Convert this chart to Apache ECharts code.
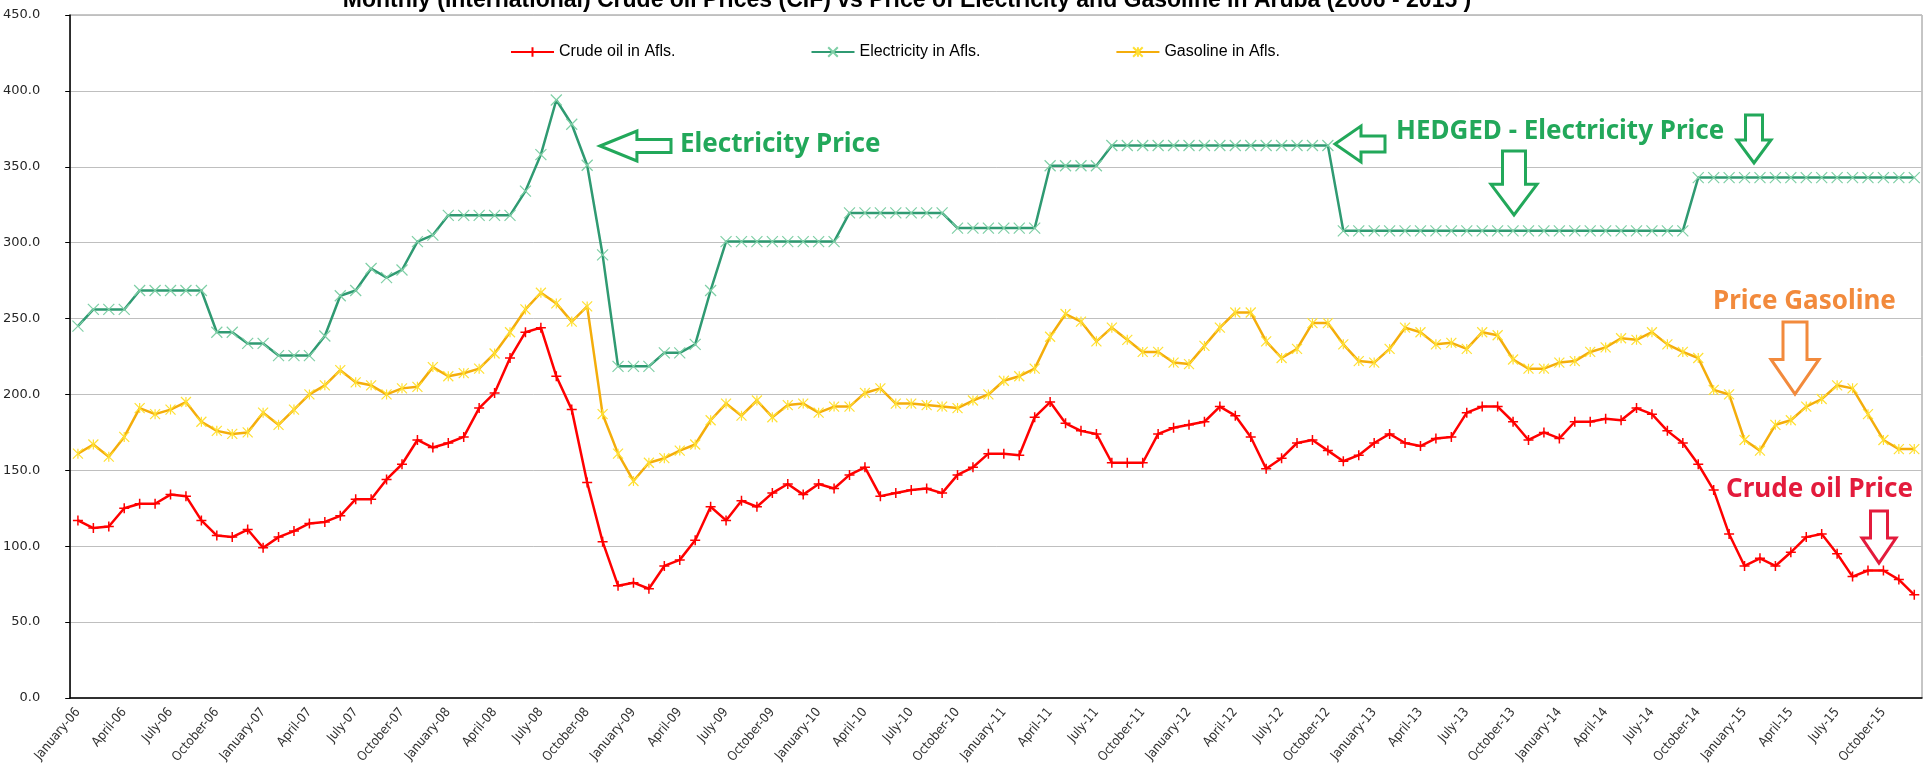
<!DOCTYPE html>
<html>
<head>
<meta charset="utf-8">
<style>
  html, body { margin: 0; padding: 0; background: #fff; }
  #main { width: 1932px; height: 780px; }
</style>
</head>
<body>
<div id="main"></div>
<script src="https://cdn.jsdelivr.net/npm/echarts@6/dist/echarts.min.js"></script>
<script>
// month labels Jan-06 .. Dec-15
var monthNames = ['January', 'February', 'March', 'April', 'May', 'June',
                  'July', 'August', 'September', 'October', 'November', 'December'];
var years = ['06', '07', '08', '09', '10', '11', '12', '13', '14', '15'];
var months = [];
years.forEach(function (y) {
    monthNames.forEach(function (m) { months.push(m + '-' + y); });
});

// values (Afls.)
var crudeOil = [
    117, 112, 113, 125, 128, 128, 134, 133, 117, 107, 106, 111,
    99, 106, 110, 115, 116, 120, 131, 131, 144, 154, 170, 165,
    168, 172, 191, 201, 224, 241, 244, 212, 190, 142, 103, 74,
    76, 72, 87, 91, 104, 126, 117, 130, 126, 135, 141, 134,
    141, 138, 147, 152, 133, 135, 137, 138, 135, 147, 152, 161,
    161, 160, 185, 195, 181, 176, 174, 155, 155, 155, 174, 178,
    180, 182, 192, 186, 172, 151, 158, 168, 170, 163, 156, 160,
    168, 174, 168, 166, 171, 172, 188, 192, 192, 182, 170, 175,
    171, 182, 182, 184, 183, 191, 187, 176, 168, 154, 137, 108,
    87, 92, 87, 96, 106, 108, 95, 80, 84, 84, 78, 68
];
var electricity = [
    245, 256, 256, 256, 268.5, 268.5, 268.5, 268.5, 268.5, 241, 241, 233.6,
    233.6, 225.6, 225.6, 225.6, 238.5, 265, 268.5, 283, 277, 282, 300.7, 305,
    318, 318, 318, 318, 318, 334, 358, 394, 378, 351, 292, 218.5,
    218.5, 218.5, 227.4, 227.4, 233, 268.5, 300.7, 300.7, 300.7, 300.7, 300.7, 300.7,
    300.7, 300.7, 319.6, 319.6, 319.6, 319.6, 319.6, 319.6, 319.6, 309.6, 309.6, 309.6,
    309.6, 309.6, 309.6, 350.7, 350.7, 350.7, 350.7, 364, 364, 364, 364, 364,
    364, 364, 364, 364, 364, 364, 364, 364, 364, 364, 307.8, 307.8,
    307.8, 307.8, 307.8, 307.8, 307.8, 307.8, 307.8, 307.8, 307.8, 307.8, 307.8, 307.8,
    307.8, 307.8, 307.8, 307.8, 307.8, 307.8, 307.8, 307.8, 307.8, 342.9, 342.9, 342.9,
    342.9, 342.9, 342.9, 342.9, 342.9, 342.9, 342.9, 342.9, 342.9, 342.9, 342.9, 342.9
];
var gasoline = [
    161, 167, 159, 172, 191, 187, 190, 195, 182, 176, 174, 175,
    188, 180, 190, 200, 206, 216, 208, 206, 200, 204, 205, 218,
    212, 214, 217, 227, 241, 256, 267, 260, 248, 258, 187, 161,
    143, 155, 158, 163, 167, 183, 194, 186, 196, 185, 193, 194,
    188, 192, 192, 201, 204, 194, 194, 193, 192, 191, 196, 200,
    209, 212, 217, 238, 253, 248, 235, 244, 236, 228, 228, 221,
    220, 232, 244, 254, 254, 235, 224, 230, 247, 247, 233, 222,
    221, 230, 244, 241, 233, 234, 230, 241, 239, 223, 217, 217,
    221, 222, 228, 231, 237, 236, 241, 233, 228, 224, 203, 200,
    170, 163, 180, 183, 192, 197, 206, 204, 187, 170, 164, 164
];

var plusMark = 'path://M5,0L5,10M0,5L10,5';
var crossMark = 'path://M0,0L10,10M10,0L0,10';
var starMark = 'path://M5,0L5,10M0,0L10,10M10,0L0,10';

var green = '#22a85a';
var orange = '#f28a3c';
var crimson = '#e31b3c';

// hollow block arrows for the notes
function leftArrow(x, y, w, h, color) {
    var hw = w * 0.52, s = h * 0.28;
    return {
        type: 'polygon', silent: true, z: 100,
        shape: { points: [[x, y + h / 2], [x + hw, y], [x + hw, y + s], [x + w, y + s],
                          [x + w, y + h - s], [x + hw, y + h - s], [x + hw, y + h]] },
        style: { fill: '#fff', stroke: color, lineWidth: 3 }
    };
}
function downArrow(x, y, w, h, color) {
    var hh = h * 0.48, s = w * 0.25;
    return {
        type: 'polygon', silent: true, z: 100,
        shape: { points: [[x + s, y], [x + w - s, y], [x + w - s, y + h - hh], [x + w, y + h - hh],
                          [x + w / 2, y + h], [x, y + h - hh], [x + s, y + h - hh]] },
        style: { fill: '#fff', stroke: color, lineWidth: 3 }
    };
}
function note(x, y, str, color) {
    return {
        type: 'text', silent: true, z: 100, x: x, y: y,
        style: { text: str, fill: color, font: 'bold 26px "Noto Sans"', textVerticalAlign: 'middle' }
    };
}

var myChart = echarts.init(document.getElementById('main'));
var option = {
    animation: false,
    backgroundColor: '#fff',
    grid: { left: 67, right: 10, top: 15, bottom: 82, show: true, borderColor: '#8c8c8c', borderWidth: 1 },
    legend: {
        top: 39, left: 505, itemWidth: 43, itemHeight: 12, itemGap: 135,
        textStyle: { fontSize: 16, fontFamily: 'Liberation Sans', color: '#000' },
        data: ['Crude oil in Afls.', 'Electricity in Afls.', 'Gasoline in Afls.']
    },
    xAxis: {
        type: 'category',
        data: months,
        boundaryGap: true,
        axisLine: { lineStyle: { color: '#000', width: 1.5 } },
        axisTick: { interval: 0, length: 5, lineStyle: { color: '#000' } },
        axisLabel: {
            interval: 2, rotate: 50, fontSize: 13, color: '#333', margin: 12,
            fontFamily: '"Liberation Sans Narrow", "DejaVu Sans Condensed", "Liberation Sans"'
        },
        splitLine: { show: false }
    },
    yAxis: {
        type: 'value',
        min: 0, max: 450, interval: 50,
        axisLine: { show: true, lineStyle: { color: '#000', width: 1.5 } },
        axisTick: { show: true, length: 5, lineStyle: { color: '#000' } },
        axisLabel: {
            fontSize: 13, fontFamily: 'DejaVu Sans', color: '#262626', margin: 30,
            formatter: function (v) { return v.toFixed(1); }
        },
        splitLine: { lineStyle: { color: '#bfbfbf', width: 1 } }
    },
    series: [
        {
            name: 'Crude oil in Afls.', type: 'line', data: crudeOil,
            symbol: plusMark, symbolSize: 10, showAllSymbol: true,
            lineStyle: { color: '#ff0000', width: 2.5 },
            itemStyle: { color: '#ff0000', borderColor: '#ff0000', borderWidth: 1.5 },
            emphasis: { disabled: true }
        },
        {
            name: 'Electricity in Afls.', type: 'line', data: electricity,
            symbol: crossMark, symbolSize: 11, showAllSymbol: true,
            lineStyle: { color: '#2f9a72', width: 2.5 },
            itemStyle: { color: '#7fcfa6', borderColor: '#7fcfa6', borderWidth: 1.2 },
            emphasis: { disabled: true }
        },
        {
            name: 'Gasoline in Afls.', type: 'line', data: gasoline,
            symbol: starMark, symbolSize: 10, showAllSymbol: true,
            lineStyle: { color: '#f4ad0b', width: 2.5 },
            itemStyle: { color: '#ffe033', borderColor: '#ffe033', borderWidth: 1.2 },
            emphasis: { disabled: true }
        }
    ],
    graphic: [
        {
            type: 'text', silent: true, x: 907, y: 12,
            style: {
                text: 'Monthly (International) Crude oil Prices (CIF) vs Price of Electricity and Gasoline in Aruba (2006 - 2015 )',
                font: 'bold 23px "Liberation Sans"', fill: '#000', textAlign: 'center', textVerticalAlign: 'bottom'
            }
        },
        leftArrow(600, 131, 71, 30, green),
        note(680, 145, 'Electricity Price', green),
        leftArrow(1335, 126, 50, 36, green),
        note(1396, 132, 'HEDGED - Electricity Price', green),
        downArrow(1491, 151, 46, 64, green),
        downArrow(1737, 115, 34, 48, green),
        note(1713, 302, 'Price Gasoline', orange),
        downArrow(1771, 322, 48, 72, orange),
        note(1726, 490, 'Crude oil Price', crimson),
        downArrow(1862, 511, 34, 52, crimson)
    ]
};
myChart.setOption(option);
</script>
</body>
</html>
